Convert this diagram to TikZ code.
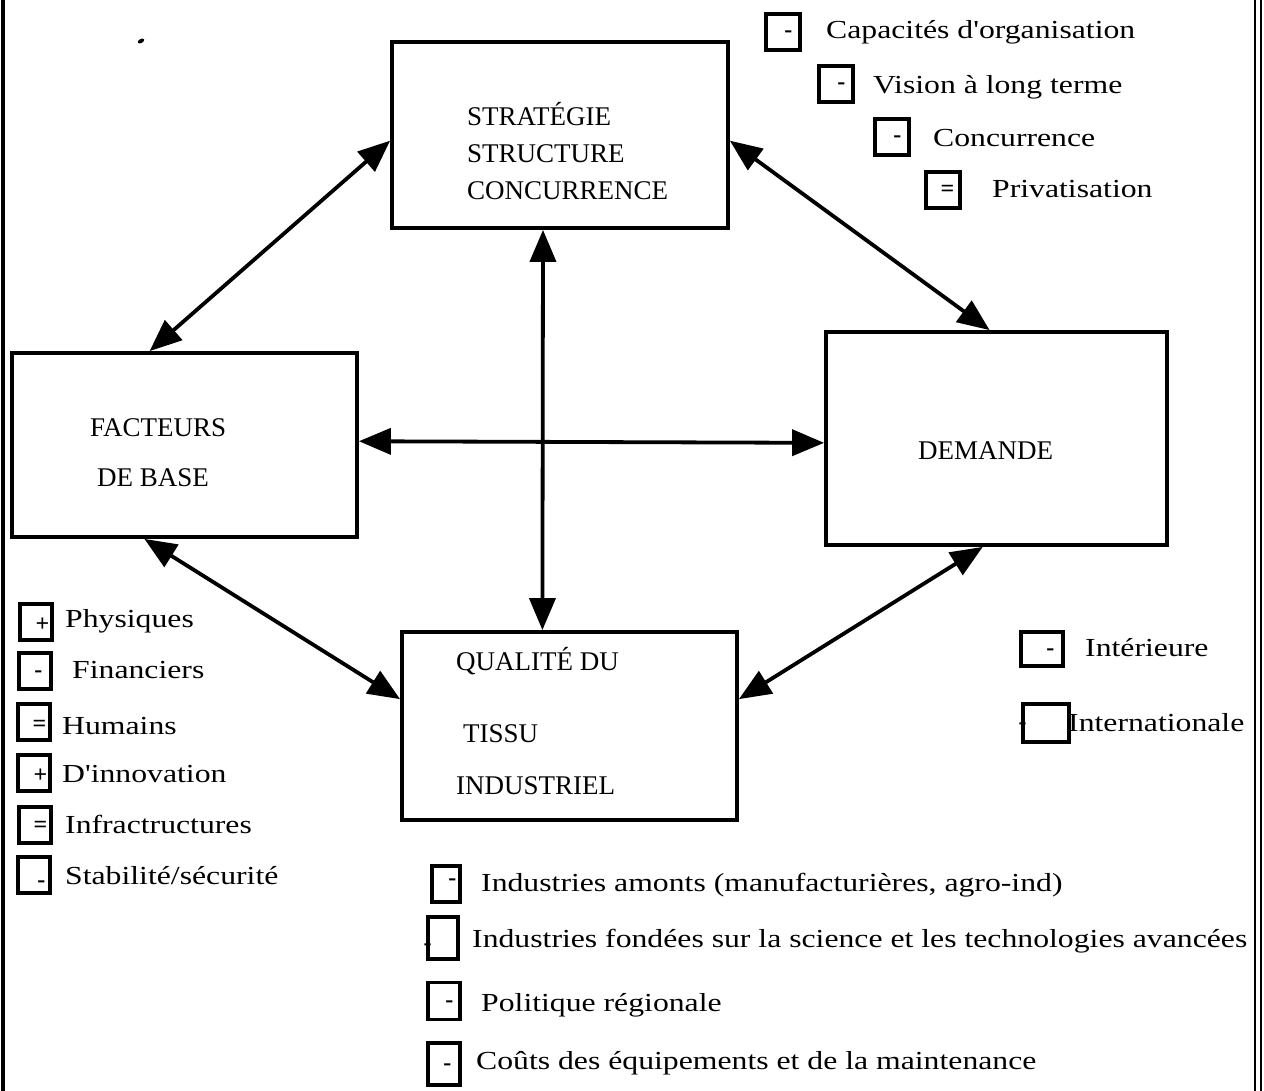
\documentclass[tikz,border=0pt]{standalone}
\usepackage{fontspec}
\setmainfont{Liberation Serif}
\newfontfamily\lstfont[FakeStretch=1.22]{Liberation Serif}
\usetikzlibrary{arrows.meta,positioning,calc}
\begin{document}
\begin{tikzpicture}[x=1pt,y=-1pt,
  bigbox/.style={draw, line width=3.8pt, inner sep=0pt},
  boxtxt/.style={font=\fontsize{27}{37}\selectfont, inner sep=0pt, align=left},
  lsttxt/.style={font=\lstfont\fontsize{26}{30}\selectfont, inner sep=0pt, anchor=west, text height=0.68em, text depth=0.22em, yshift=-5pt},
  sq/.style={draw, line width=3.2pt, inner sep=0pt, minimum width=32pt, minimum height=36pt},
  sgn/.style={font=\fontsize{24}{26}\selectfont\bfseries, inner sep=0pt, anchor=base east},
  sgnl/.style={font=\fontsize{24}{26}\selectfont\bfseries, inner sep=0pt, anchor=base west},
  link/.style={line width=3.8pt, {Triangle[length=32pt,width=26pt]}-{Triangle[length=32pt,width=26pt]}}]
\useasboundingbox (0,0) rectangle (1264,1091);
% frame lines
\draw[line width=4pt] (3,0) -- (3,1091);
\draw[line width=2.5pt] (1255,0) -- (1255,1091);
\draw[line width=2.5pt] (1261,0) -- (1261,1091);
\fill[rotate around={30:(141,41)}] (141,41) ellipse (3.5 and 2);
% main boxes
\node[bigbox, minimum width=336pt, minimum height=186pt] (S) at (560,135) {};
\node[bigbox, minimum width=345pt, minimum height=184pt] (F) at (184.5,445) {};
\node[bigbox, minimum width=341pt, minimum height=213pt] (D) at (996.5,438.5) {};
\node[bigbox, minimum width=335pt, minimum height=188pt] (Q) at (569.5,726) {};
% box texts
\node[boxtxt, anchor=north west] (St) at (467,102) {STRATÉGIE\\STRUCTURE\\CONCURRENCE};
\node[boxtxt, anchor=west] (Ft1) at (90,428) {FACTEURS};
\node[boxtxt, anchor=west] (Ft2) at (97,478) {DE BASE};
\node[boxtxt, anchor=west] (Dt) at (918,451) {DEMANDE};
\node[boxtxt, anchor=west] (Qt1) at (456,661) {QUALITÉ DU};
\node[boxtxt, anchor=west] (Qt2) at (463,734) {TISSU};
\node[boxtxt, anchor=west] (Qt3) at (456,786) {INDUSTRIEL};
% connectors
\draw[link] ($(F.north west)!0.40!(F.north east)$) -- ($(S.north west)!0.53!(S.south west)$);
\draw[link] ($(S.north east)!0.53!(S.south east)$) -- ($(D.north west)!0.48!(D.north east)$);
\draw[link] ($(S.south west)!0.45!(S.south east)$) -- ($(Q.north west)!0.42!(Q.north east)$);
\draw[link] ($(F.north east)!0.48!(F.south east)$) -- ($(D.north west)!0.52!(D.south west)$);
\draw[link] ($(F.south west)!0.385!(F.south east)$) -- ($(Q.north west)!0.36!(Q.south west)$);
\draw[link] ($(D.south west)!0.46!(D.south east)$) -- ($(Q.north east)!0.36!(Q.south east)$);
% top right list
\node[sq, minimum width=34pt] (a1) at (783,32) {};
\node[sgn] (a1s) at ($(a1.east)+(-9,6)$) {-};
\node[lsttxt] (a1t) at (826,31) {Capacités d'organisation};
\node[sq, minimum width=34pt] (a2) at (836,84) {};
\node[sgn] (a2s) at ($(a2.east)+(-9,6)$) {-};
\node[lsttxt] (a2t) at (873,86) {Vision à long terme};
\node[sq, minimum width=34pt] (a3) at (892,137) {};
\node[sgn] (a3s) at ($(a3.east)+(-9,6)$) {-};
\node[lsttxt] (a3t) at (933,139) {Concurrence};
\node[sq, minimum width=34pt] (a4) at (943,190) {};
\node[sgn] (a4s) at ($(a4.east)+(-7,7)$) {=};
\node[lsttxt] (a4t) at (992,190) {Privatisation};
% left list
\node[sq] (b1) at (36,622) {};
\node[sgn] (b1s) at ($(b1.east)+(-4,9)$) {+};
\node[lsttxt] (b1t) at (65,620) {Physiques};
\node[sq] (b2) at (35,671) {};
\node[sgn] (b2s) at ($(b2.east)+(-10,6)$) {-};
\node[lsttxt] (b2t) at (72,671) {Financiers};
\node[sq] (b3) at (34,722) {};
\node[sgn] (b3s) at ($(b3.east)+(-5,9)$) {=};
\node[lsttxt] (b3t) at (62,727) {Humains};
\node[sq] (b4) at (34,773) {};
\node[sgn] (b4s) at ($(b4.east)+(-4,9)$) {+};
\node[lsttxt] (b4t) at (62,775) {D'innovation};
\node[sq] (b5) at (35,825) {};
\node[sgn] (b5s) at ($(b5.east)+(-5,7)$) {=};
\node[lsttxt] (b5t) at (65,826) {Infractructures};
\node[sq] (b6) at (34,875) {};
\node[sgn] (b6s) at ($(b6.east)+(-6,12)$) {-};
\node[lsttxt] (b6t) at (65,877) {Stabilité/sécurité};
% right list
\node[sq, minimum width=42pt, minimum height=34pt] (c1) at (1042,649) {};
\node[sgn] (c1s) at ($(c1.east)+(-10,6)$) {-};
\node[lsttxt] (c1t) at (1085,649) {Intérieure};
\node[sq, minimum width=46pt, minimum height=38pt] (c2) at (1046,723) {};
\node[sgnl] (c2s) at ($(c2.west)+(-3,6)$) {-};
\node[lsttxt] (c2t) at (1068,724) {Internationale};
% bottom list
\node[sq, minimum width=28pt] (d1) at (446,884) {};
\node[sgn] (d1s) at ($(d1.east)+(-5,1)$) {-};
\node[lsttxt] (d1t) at (481,884) {Industries amonts (manufacturières, agro-ind)};
\node[sq, minimum width=30pt, minimum height=42pt] (d2) at (443,938) {};
\node[sgnl] (d2s) at ($(d2.west)+(-3,12)$) {-};
\node[lsttxt] (d2t) at (472,940) {Industries fondées sur la science et les technologies avancées};
\node[sq, minimum width=32pt, minimum height=37pt] (d3) at (444,1001) {};
\node[sgn] (d3s) at ($(d3.east)+(-8,6)$) {-};
\node[lsttxt] (d3t) at (481,1004) {Politique régionale};
\node[sq, minimum width=32pt, minimum height=42pt] (d4) at (444,1064) {};
\node[sgn] (d4s) at ($(d4.east)+(-10,6)$) {-};
\node[lsttxt] (d4t) at (476,1062) {Coûts des équipements et de la maintenance};
\end{tikzpicture}
\end{document}
